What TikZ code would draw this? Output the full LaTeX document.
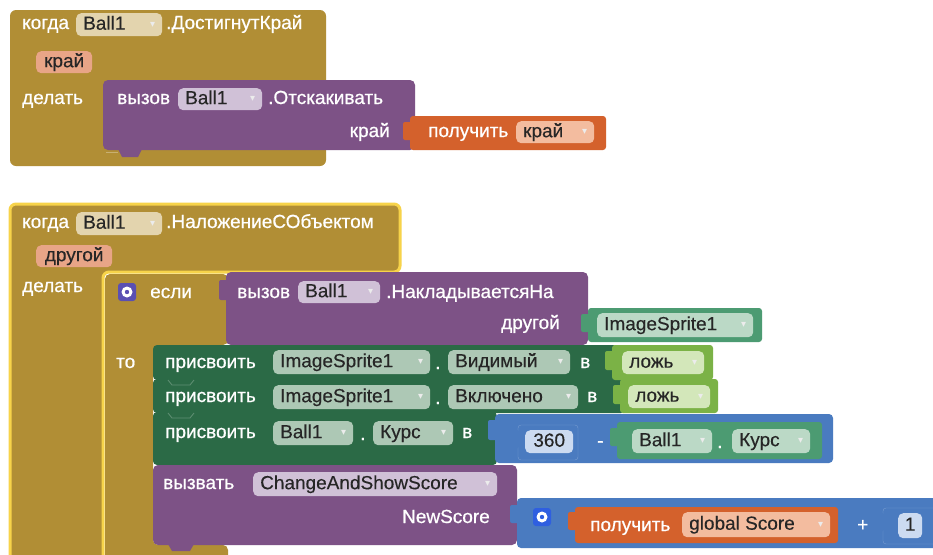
\documentclass[tikz,border=0pt]{standalone}
\usepackage{fontspec}
\setmainfont{Liberation Sans}
\newfontfamily\symf{DejaVu Sans}
\definecolor{olive}{HTML}{B18E35}
\definecolor{oliveP}{HTML}{E3D4AE}
\definecolor{param}{HTML}{E8A587}
\definecolor{purp}{HTML}{7D5286}
\definecolor{purpP}{HTML}{D0C1D7}
\definecolor{orng}{HTML}{D4612C}
\definecolor{orngP}{HTML}{F3BC9F}
\definecolor{dgrn}{HTML}{2B6A46}
\definecolor{dgrnP}{HTML}{ADC8B5}
\definecolor{cgrn}{HTML}{4C9B72}
\definecolor{cgrnP}{HTML}{BBD9C6}
\definecolor{lgrn}{HTML}{7BB246}
\definecolor{lgrnP}{HTML}{D3E7BA}
\definecolor{blu}{HTML}{4A7BC0}
\definecolor{bluP}{HTML}{CCDBF1}
\definecolor{yel}{HTML}{F7D34A}
\definecolor{gearA}{HTML}{5A4FB3}
\definecolor{gearB}{HTML}{2F5FE0}
\tikzset{
  every node/.style={font=\fontsize{19}{21}\selectfont},
  lbl/.style={text=white, anchor=west, inner sep=0, text height=14pt, text depth=4pt,
    font=\fontsize{19}{21}\selectfont\addfontfeatures{FakeBold=0.7}},
  dtxt/.style={text=black!85, inner sep=0, text height=14pt, text depth=4pt,
    font=\fontsize{19}{21}\selectfont\addfontfeatures{FakeBold=0.3}},
  arrtxt/.style={text=white!85!gray, inner sep=0, font=\symf\fontsize{10}{11}\selectfont},
  pillbox/.style={rounded corners=5pt, inner sep=0, draw=none},
  gearbox/.style={rounded corners=3pt, minimum width=18pt, minimum height=18pt, inner sep=0},
}
\newcommand\pl[7]{%
  \node[pillbox, fill=#6, minimum width=#4pt, minimum height=#5pt, anchor=north west] (#1) at (#2,#3) {};
  \node[dtxt, anchor=west] (#1t) at ([xshift=7pt]#1.west) {#7};
  \node[arrtxt, anchor=east] (#1a) at ([xshift=-7pt]#1.east) {▾};}
\newcommand\pn[7]{%
  \node[pillbox, fill=#6, minimum width=#4pt, minimum height=#5pt, anchor=north west] (#1) at (#2,#3) {};
  \node[dtxt] (#1t) at (#1.center) {#7};}
\newcommand\gearicon[4]{%
  \node[gearbox, fill=#4] (#1) at (#2,#3) {};
  \fill[white] (#1.center) circle (5.5pt);
  \fill[#4] (#1.center) circle (2.2pt);}
\begin{document}
\begin{tikzpicture}[x=1pt,y=-1pt]
\useasboundingbox (0,0) rectangle (933,554);
\fill[white] (0,0) rectangle (933,554);
\clip (0,0) rectangle (933,554);

% ===== Block 1 =====
\fill[olive, rounded corners=6] (10,10) rectangle (326,166);
\fill[purp, rounded corners=5] (103,80) rectangle (415,150);
\fill[purp] (118,149) -- (122,157) -- (138,157) -- (142,149) -- cycle;
\draw[white!30!olive, line width=1] (106,152) -- (118,152);
\fill[orng, rounded corners=3] (410,116) rectangle (606,150);
\fill[orng, rounded corners=2] (403,122) rectangle (412,140);

\node[lbl] (k1) at (22,24) {когда};
\pl{b1}{76}{13}{86}{23}{oliveP}{Ball1}
\node[lbl] (e1) at (166,24) {.ДостигнутКрай};
\pn{p1}{36}{51}{56}{22}{param}{край}
\node[lbl] (d1) at (22,99) {делать};
\node[lbl] (v1) at (117,99) {вызов};
\pl{b2}{178}{88}{84}{22}{purpP}{Ball1}
\node[lbl] (o1) at (268,99) {.Отскакивать};
\node[lbl, anchor=east] (kr1) at (390,132) {край};
\node[lbl] (g1) at (428,132) {получить};
\pl{b3}{516}{121}{78}{22}{orngP}{край}

% ===== Block 2 =====
\path[fill=olive, draw=yel, line width=3, rounded corners=6]
  (10,204) -- (400,204) -- (400,272) -- (103,272) -- (103,600) -- (10,600) -- cycle;
% if block
\fill[olive, rounded corners=5] (105,274) -- (228,274) -- (228,345) -- (153,345)
  -- (153,545) -- (228,545) -- (228,600) -- (105,600) -- cycle;

\node[lbl] (k2) at (22,223) {когда};
\pl{b4}{76}{212}{86}{23}{oliveP}{Ball1}
\node[lbl] (e2) at (166,223) {.НаложениеСОбъектом};
\pn{p2}{36}{245}{76}{22}{param}{другой}
\node[lbl] (d2) at (22,287) {делать};
\gearicon{gr1}{127}{292}{gearA}
\node[lbl] (if1) at (150,293) {если};
\node[lbl] (to1) at (116,363) {то};

% purple call (condition)
\fill[purp, rounded corners=5] (226,272) rectangle (588,345);
\fill[purp, rounded corners=2] (219,280) rectangle (228,300);
\node[lbl] (v2) at (237,293) {вызов};
\pl{b5}{298}{281}{82}{22}{purpP}{Ball1}
\node[lbl] (o2) at (386,293) {.НакладываетсяНа};
\node[lbl, anchor=east] (dr1) at (560,324) {другой};
\fill[cgrn, rounded corners=3] (588,308) rectangle (762,342);
\fill[cgrn, rounded corners=2] (581,314) rectangle (590,332);
\pl{c1}{597}{313}{156}{24}{cgrnP}{ImageSprite1}

% setter rows
\fill[dgrn, rounded corners=4] (153,345) rectangle (617,380);
\fill[dgrn, rounded corners=4] (153,379) rectangle (625,413);
\fill[dgrn, rounded corners=4] (153,412) rectangle (497,465);
\foreach \yy in {380,413} {
  \draw[white!25!dgrn, line width=0.8] (168,\yy) -- (172,\yy+5) -- (190,\yy+5) -- (194,\yy);
}
\fill[dgrn] (168,464) -- (172,470) -- (190,470) -- (194,464) -- cycle;

\node[lbl] (s1) at (165,363) {присвоить};
\pl{i1}{273}{350}{157}{24}{dgrnP}{ImageSprite1}
\node[lbl] (dt1) at (435,364) {.};
\pl{vis}{448}{350}{122}{24}{dgrnP}{Видимый}
\node[lbl] (in1) at (580,363) {в};
\fill[lgrn, rounded corners=3] (612,345) rectangle (713,380);
\fill[lgrn, rounded corners=2] (605,351) rectangle (614,370);
\pl{f1}{622}{351}{82}{23}{lgrnP}{ложь}

\node[lbl] (s2) at (165,397) {присвоить};
\pl{i2}{273}{385}{157}{24}{dgrnP}{ImageSprite1}
\node[lbl] (dt2) at (435,399) {.};
\pl{ena}{448}{385}{130}{24}{dgrnP}{Включено}
\node[lbl] (in2) at (587,397) {в};
\fill[lgrn, rounded corners=3] (620,379) rectangle (718,413);
\fill[lgrn, rounded corners=2] (613,385) rectangle (622,404);
\pl{f2}{628}{385}{82}{23}{lgrnP}{ложь}

\node[lbl] (s3) at (165,433) {присвоить};
\pl{b6}{273}{421}{80}{24}{dgrnP}{Ball1}
\node[lbl] (dt3) at (360,435) {.};
\pl{h1}{373}{421}{80}{24}{dgrnP}{Курс}
\node[lbl] (in3) at (462,433) {в};
% minus block
\fill[blu, rounded corners=4] (495,414) rectangle (833,463);
\fill[blu, rounded corners=2] (488,420) rectangle (497,440);
\draw[white!25!blu, fill=blu, rounded corners=3] (518,425) rectangle (578,460);
\fill[blu, rounded corners=2] (511,430) rectangle (519,448);
\pn{n1}{525}{430}{48}{23}{bluP}{360}
\node[lbl] (mi) at (597,442) {-};
\fill[cgrn, rounded corners=3] (617,422) rectangle (822,459);
\fill[cgrn, rounded corners=2] (610,428) rectangle (619,446);
\pl{b7}{632}{429}{80}{24}{cgrnP}{Ball1}
\node[lbl] (dt4) at (717,443) {.};
\pl{h2}{732}{429}{78}{24}{cgrnP}{Курс}

% procedure call
\fill[purp, rounded corners=5] (153,465) rectangle (517,545);
\fill[purp] (168,544) -- (172,551) -- (190,551) -- (194,544) -- cycle;
\node[lbl] (cl) at (163,484) {вызвать};
\pl{pr}{253}{472}{244}{24}{purpP}{ChangeAndShowScore}
\node[lbl, anchor=east] (ns) at (490,518) {NewScore};
\fill[blu, rounded corners=4] (517,498) rectangle (950,548);
\fill[blu, rounded corners=2] (510,505) rectangle (519,523);
\gearicon{gr2}{542}{517}{gearB}
\fill[orng, rounded corners=3] (575,507) rectangle (838,543);
\fill[orng, rounded corners=2] (568,512) rectangle (577,530);
\node[lbl] (g2) at (590,526) {получить};
\pl{gs}{682}{512}{148}{25}{orngP}{global Score}
\node[lbl] (pl1) at (857,526) {+};
\draw[white!25!blu, fill=blu, rounded corners=3] (883,508) rectangle (940,544);
\fill[blu, rounded corners=2] (876,513) rectangle (884,531);
\pn{n2}{898}{513}{24}{25}{bluP}{1}
\end{tikzpicture}
\end{document}
